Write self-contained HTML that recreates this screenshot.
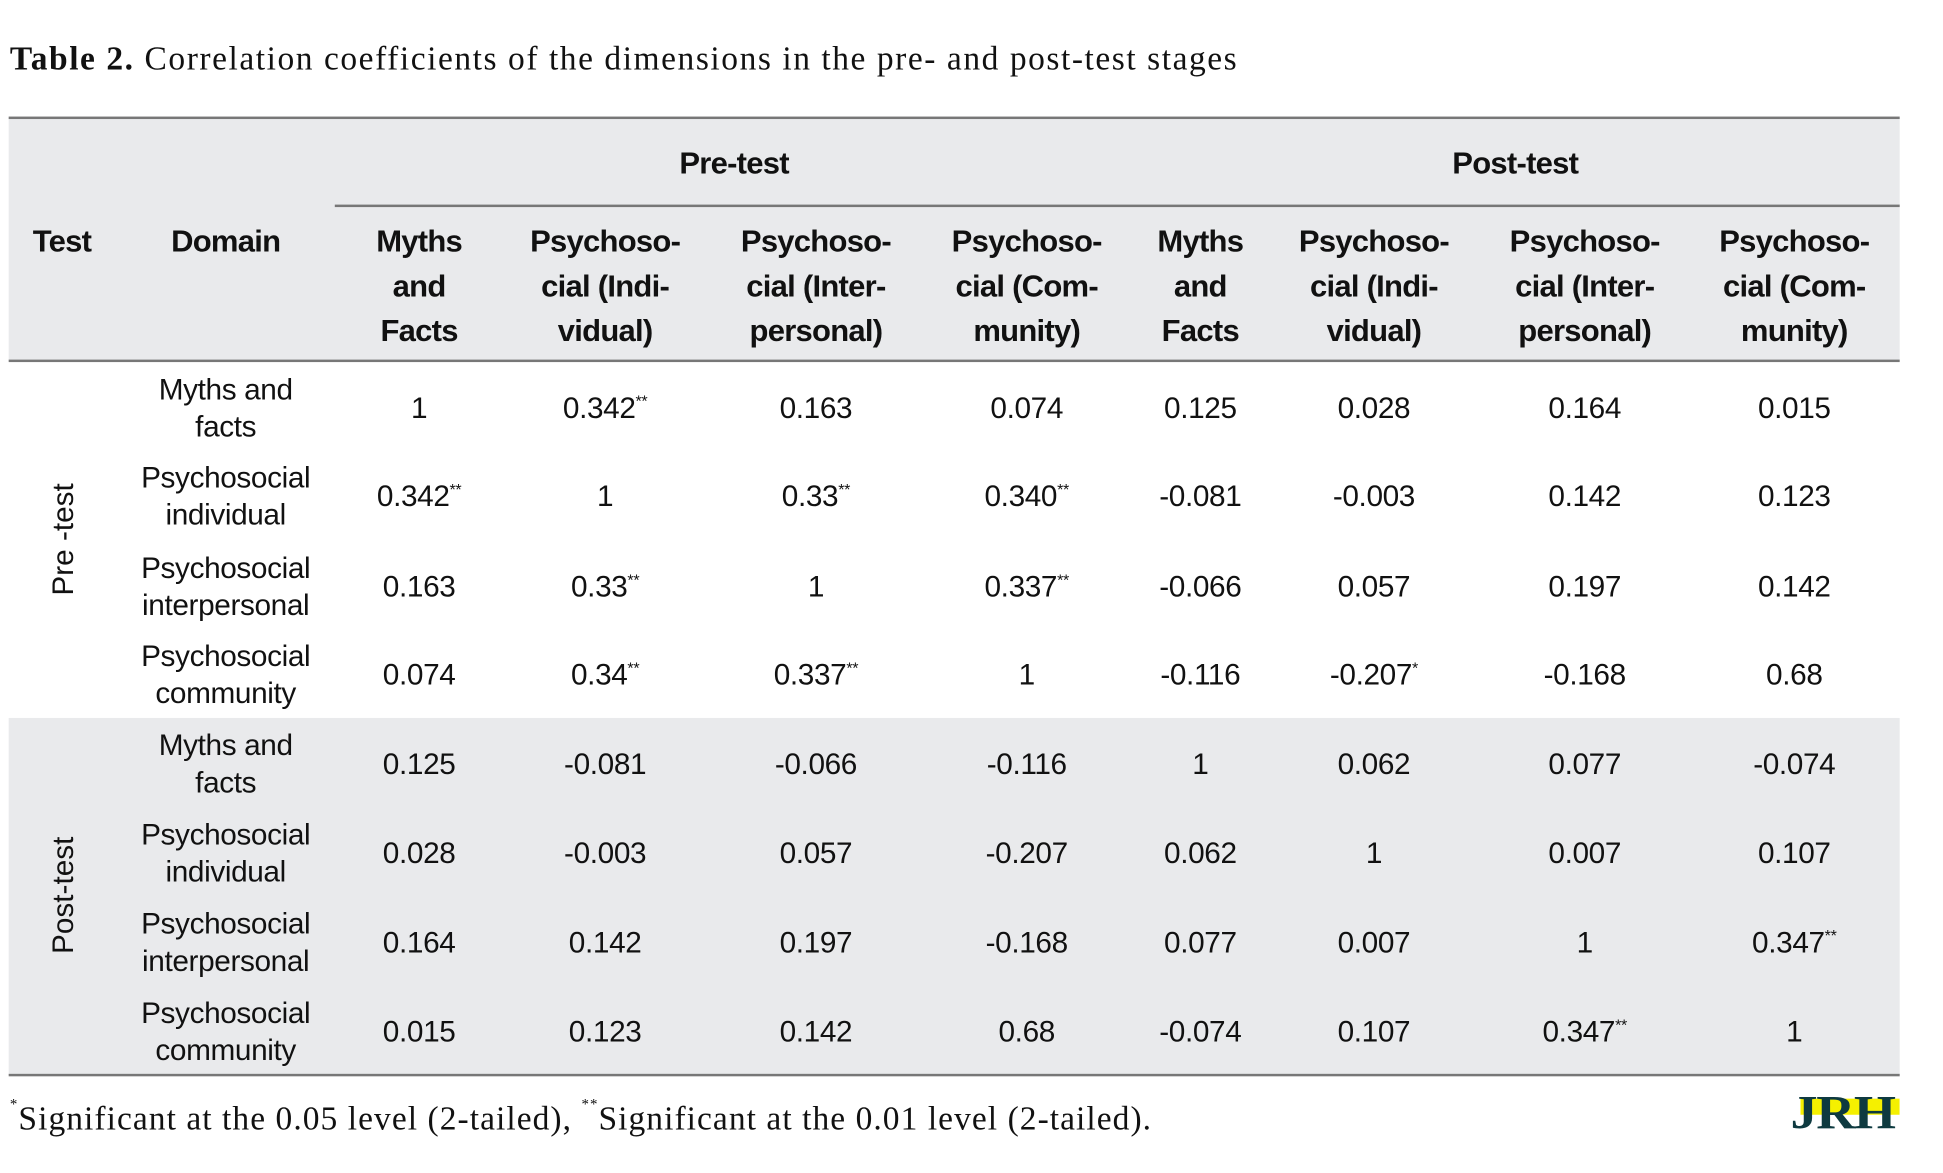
<!DOCTYPE html>
<html><head><meta charset="utf-8">
<style>
html,body{margin:0;padding:0;background:#fff;width:1943px;height:1173px;overflow:hidden}
#wrap{position:absolute;left:0;top:0;width:1567px;height:946px;transform:scale(1.24);transform-origin:0 0;font-family:"Liberation Sans",sans-serif;color:#111}
.abs{position:absolute}
.c{position:absolute;text-align:center;transform:translate(-50%,-50%);white-space:nowrap}
.h{font-weight:bold;font-size:25px;line-height:36px;letter-spacing:-0.6px}
.b{font-size:24px;line-height:30px;letter-spacing:-0.3px}
sup{font-size:13px;vertical-align:top;position:relative;top:-6px}
</style></head><body>
<div id="wrap">
<div class="abs" style="left:8px;top:32px;font-family:'Liberation Serif',serif;font-size:27px;letter-spacing:1.25px;white-space:nowrap"><b>Table 2.</b> Correlation coefficients of the dimensions in the pre- and post-test stages</div>
<div class="abs" style="left:7px;top:95px;width:1525px;height:196px;background:#e9eaec"></div>
<div class="abs" style="left:7px;top:579px;width:1525px;height:288px;background:#e9eaec"></div>
<div class="abs" style="left:7px;top:94px;width:1525px;height:2px;background:#777"></div>
<div class="abs" style="left:270px;top:165px;width:1262px;height:2px;background:#777"></div>
<div class="abs" style="left:7px;top:290px;width:1525px;height:2px;background:#777"></div>
<div class="abs" style="left:7px;top:866px;width:1525px;height:2px;background:#777"></div>
<div class="c h" style="left:592px;top:132px">Pre-test</div>
<div class="c h" style="left:1222px;top:132px">Post-test</div>
<div class="c h" style="left:50px;top:195px">Test</div>
<div class="c h" style="left:182px;top:195px">Domain</div>
<div class="c" style="left:52px;top:435px;transform:translate(-50%,-50%) rotate(-90deg);font-size:24px">Pre -test</div>
<div class="c" style="left:52px;top:722px;transform:translate(-50%,-50%) rotate(-90deg);font-size:24px">Post-test</div>
<div class="abs" style="left:8px;top:887px;font-family:'Liberation Serif',serif;font-size:27px;letter-spacing:0.85px;white-space:nowrap"><sup style="font-size:12px;top:-4px">*</sup>Significant at the 0.05 level (2-tailed), <sup style="font-size:12px;top:-4px">**</sup>Significant at the 0.01 level (2-tailed).</div>
<div class="abs" style="left:1444px;top:884px;width:88px;height:30px;overflow:hidden">
<div class="abs" style="left:8px;top:2px;width:80px;height:13px;background:#f5f000"></div>
<div class="abs" style="left:0;top:-8px;font-family:'Liberation Serif',serif;font-weight:bold;font-size:38px;color:#0e3a40;letter-spacing:-1px;transform:scaleX(1.15);transform-origin:0 0">JRH</div>
</div>
<div id="cells"></div>
</div>
<script>
const colHeaders=[["Myths","and","Facts"],["Psychoso-","cial (Indi-","vidual)"],["Psychoso-","cial (Inter-","personal)"],["Psychoso-","cial (Com-","munity)"],["Myths","and","Facts"],["Psychoso-","cial (Indi-","vidual)"],["Psychoso-","cial (Inter-","personal)"],["Psychoso-","cial (Com-","munity)"]];
const rowLabels=[["Myths and","facts"],["Psychosocial","individual"],["Psychosocial","interpersonal"],["Psychosocial","community"],["Myths and","facts"],["Psychosocial","individual"],["Psychosocial","interpersonal"],["Psychosocial","community"]];
const values=[
["1","0.342**","0.163","0.074","0.125","0.028","0.164","0.015"],
["0.342**","1","0.33**","0.340**","-0.081","-0.003","0.142","0.123"],
["0.163","0.33**","1","0.337**","-0.066","0.057","0.197","0.142"],
["0.074","0.34**","0.337**","1","-0.116","-0.207*","-0.168","0.68"],
["0.125","-0.081","-0.066","-0.116","1","0.062","0.077","-0.074"],
["0.028","-0.003","0.057","-0.207","0.062","1","0.007","0.107"],
["0.164","0.142","0.197","-0.168","0.077","0.007","1","0.347**"],
["0.015","0.123","0.142","0.68","-0.074","0.107","0.347**","1"]];
const colX=[338,488,658,828,968,1108,1278,1447];
const rowY=[330,401,474,545,617,689,761,833];
const host=document.getElementById('cells');
function fmt(v){const m=v.match(/^([^*]*)(\**)$/);return m[2]?m[1]+'<sup>'+m[2]+'</sup>':m[1];}
colHeaders.forEach((h,i)=>{const d=document.createElement('div');d.className='c h';


d.style.left=colX[i]+'px';d.style.top='231px';d.innerHTML=h.join('<br>');host.appendChild(d);});
rowLabels.forEach((r,i)=>{const d=document.createElement('div');d.className='c b';


d.style.left='182px';d.style.top=rowY[i]+'px';d.innerHTML=r.join('<br>');host.appendChild(d);});
values.forEach((row,i)=>row.forEach((v,j)=>{const d=document.createElement('div');d.className='c b';


d.style.left=colX[j]+'px';d.style.top=rowY[i]+'px';d.innerHTML=fmt(v);host.appendChild(d);}));
</script>
</body></html>
